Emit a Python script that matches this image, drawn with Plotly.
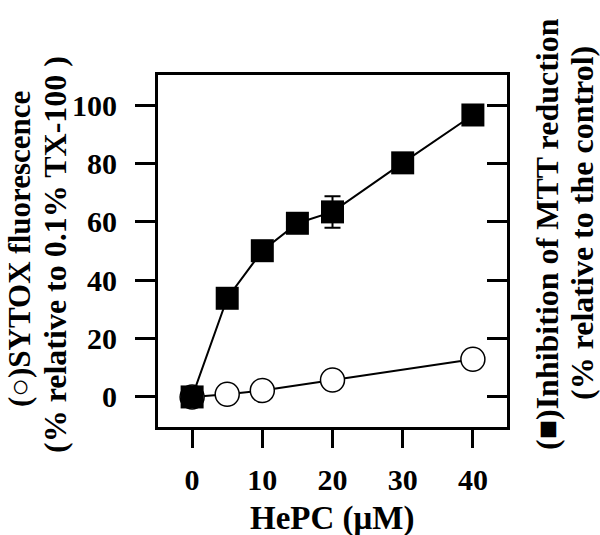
import plotly.graph_objects as go

# Data
hepc_mtt = [0, 5, 10, 15, 20, 30, 40]
mtt_inhibition = [0.0, 33.8, 50.1, 59.5, 63.4, 80.2, 96.6]
mtt_err = [0, 0, 0, 0, 5.4, 0, 0]

hepc_sytox = [0, 5, 10, 20, 40]
sytox = [0.0, 0.9, 2.2, 5.8, 12.9]

x_ticks = [0, 10, 20, 30, 40]
y_ticks = [0, 20, 40, 60, 80, 100]

FONT = "Liberation Serif"
X_RANGE = [-4.86, 44.86]
Y_RANGE = [-10.3, 110.3]

fig = go.Figure()

fig.add_trace(go.Scatter(
    x=hepc_sytox, y=sytox, mode="lines+markers",
    line=dict(color="black", width=2),
    marker=dict(symbol="circle", size=24, color="white",
                line=dict(color="black", width=1.5)),
    showlegend=False, cliponaxis=False,
))
fig.add_trace(go.Scatter(
    x=hepc_mtt, y=mtt_inhibition, mode="lines+markers",
    line=dict(color="black", width=2),
    marker=dict(symbol="square", size=23, color="black",
                line=dict(color="black", width=0)),
    error_y=dict(type="data", array=mtt_err, visible=True,
                 color="black", thickness=2, width=8),
    showlegend=False, cliponaxis=False,
))
# invisible trace for right axis
fig.add_trace(go.Scatter(x=[None], y=[None], yaxis="y2", showlegend=False))

fig.update_layout(
    width=600, height=535,
    margin=dict(l=158, r=93, t=75, b=108, autoexpand=False),
    paper_bgcolor="white", plot_bgcolor="white",
    font=dict(family=FONT, color="black", size=30, weight="bold"),
    xaxis=dict(
        range=X_RANGE, tickvals=x_ticks, ticktext=[str(v) for v in x_ticks],
        ticks="outside", ticklen=18, tickwidth=3, tickcolor="black",
        showline=True, linewidth=3, linecolor="black", mirror=True,
        showgrid=False, zeroline=False,
        tickfont=dict(family=FONT, size=30, weight="bold"),
        ticklabelstandoff=6,
    ),
    yaxis=dict(
        range=Y_RANGE, tickvals=y_ticks, ticktext=[str(v) for v in y_ticks],
        ticks="outside", ticklen=20, tickwidth=3, tickcolor="black",
        showline=True, linewidth=3, linecolor="black", mirror=True,
        showgrid=False, zeroline=False,
        tickfont=dict(family=FONT, size=30, weight="bold"),
        ticklabelstandoff=12,
    ),
    yaxis2=dict(
        range=Y_RANGE, tickvals=y_ticks, overlaying="y", side="right",
        ticks="inside", ticklen=20, tickwidth=3, tickcolor="black",
        showticklabels=False, showgrid=False, zeroline=False, showline=False,
    ),
)

# plot area in pixels: x 158..507, y 75..427
def px_x(px):
    return (px - 158) / 349.0

def px_y(py):
    return (427 - py) / 352.0

title_font = dict(family=FONT, size=32, color="black", weight="bold")
annots = [
    dict(text="HePC (\u03bcM)", x=px_x(332), y=px_y(518), textangle=0,
         font=dict(family=FONT, size=33, color="black", weight="bold")),
    dict(text="(\u25cb)SYTOX fluorescence", x=px_x(20), y=px_y(249),
         textangle=-90, font=dict(family=FONT, size=31, color="black", weight="bold")),
    dict(text="(% relative to 0.1% TX-100 )", x=px_x(55), y=px_y(255),
         textangle=-90, font=title_font),
    dict(text="(\u25a0)Inhibition of MTT reduction", x=px_x(547), y=px_y(234),
         textangle=-90, font=title_font),
    dict(text="(% relative to the control)", x=px_x(582), y=px_y(223),
         textangle=-90, font=title_font),
]
for a in annots:
    fig.add_annotation(xref="paper", yref="paper", showarrow=False,
                       xanchor="center", yanchor="middle", **a)

fig.write_html(
    "out.html",
    config={"displayModeBar": False},
    post_script="document.body.style.margin='0';document.body.style.overflow='hidden';",
)
